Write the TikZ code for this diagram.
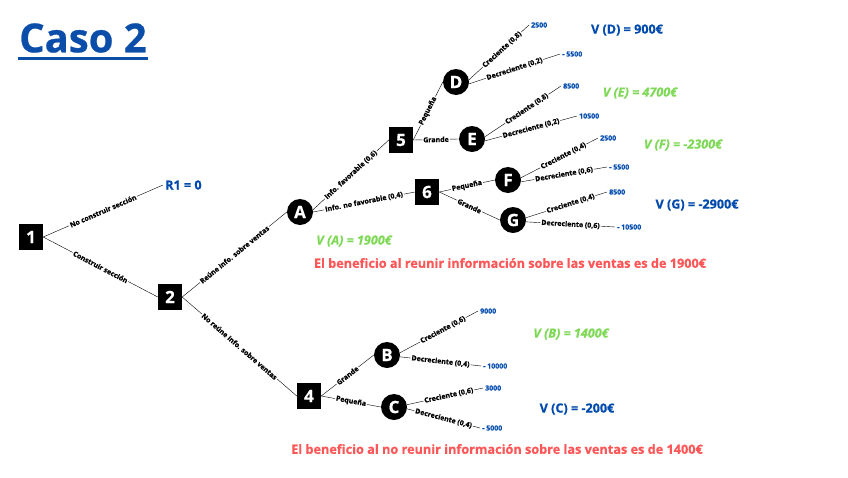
\documentclass[tikz,border=0pt]{standalone}
\usepackage{fontspec}
\setmainfont{Open Sans}[BoldFeatures={FakeBold=0.6},BoldItalicFeatures={FakeBold=0.6}]
\usepackage{xcolor}
\definecolor{titleblue}{HTML}{0B4EAA}
\definecolor{valblue}{HTML}{004AAD}
\definecolor{valgreen}{HTML}{7ED957}
\definecolor{valred}{HTML}{FF5757}

\begin{document}
\begin{tikzpicture}[x=1pt,y=-1pt,
  decision/.style={fill=black,text=white,minimum width=24pt,minimum height=26pt,inner sep=0pt,font=\bfseries\fontsize{17}{17}\selectfont},
  chance/.style={circle,fill=black,text=white,minimum size=26pt,inner sep=0pt,font=\bfseries\fontsize{17}{17}\selectfont},
  br/.style={sloped,fill=white,inner sep=1pt,font=\bfseries\fontsize{7}{7}\selectfont},
  leaf/.style={anchor=west,text=valblue,inner sep=2pt,font=\bfseries\fontsize{7}{7}\selectfont},
  vblue/.style={text=valblue,font=\bfseries\fontsize{12.6}{14}\selectfont},
  vgreen/.style={text=valgreen,font=\bfseries\itshape\fontsize{12.6}{14}\selectfont},
  vred/.style={text=valred,font=\bfseries\fontsize{12.7}{14}\selectfont}]
\fill[white] (0,0) rectangle (848,477);
\useasboundingbox (0,0) rectangle (848,477);

\node[anchor=west,inner sep=1pt,text=titleblue,font=\bfseries\fontsize{40}{44}\selectfont] (title) at (18,38) {Caso 2};
\draw[titleblue,line width=2.8pt] ([yshift=-6pt]title.base west) -- ([yshift=-6pt]title.base east);

\node[decision] (n1) at (31,237) {1};
\node[decision] (n2) at (170,297) {2};
\node[decision] (n4) at (309,396) {4};
\node[decision] (n5) at (401,140) {5};
\node[decision] (n6) at (427,192) {6};
\node[chance] (A) at (300,212) {A};
\node[chance] (D) at (456,82) {D};
\node[chance] (E) at (472,139) {E};
\node[chance] (F) at (508,180) {F};
\node[chance] (G) at (513,220) {G};
\node[chance] (B) at (387,355) {B};
\node[chance] (C) at (394,407) {C};

\node[leaf,text=valblue,font=\bfseries\fontsize{12.6}{14}\selectfont] (r1) at (163,185) {R1 = 0};
\node[leaf] (d1) at (529,25) {2500};
\node[leaf] (d2) at (560,54) {- 5500};
\node[leaf] (e1) at (561,86) {8500};
\node[leaf] (e2) at (577,116) {10500};
\node[leaf] (f1) at (598,138) {2500};
\node[leaf] (f2) at (607,167) {- 5500};
\node[leaf] (g1) at (607,192) {8500};
\node[leaf] (g2) at (615,227) {- 10500};
\node[leaf] (b1) at (478,311) {9000};
\node[leaf] (b2) at (481,366) {- 10000};
\node[leaf] (c1) at (483,388) {3000};
\node[leaf] (c2) at (480,428) {- 5000};

\draw (n1.east) -- node[br] {No construir sección} (r1.west);
\draw (n1.east) -- node[br] {Construir sección} (n2.west);
\draw (n2.east) -- node[br] {Reúne info. sobre ventas} (A.west);
\draw (n2.east) -- node[br] {No reúne info. sobre ventas} (n4.west);
\draw (A.10) -- node[br] {Info. favorable (0,6)} (n5.west);
\draw (A.east) -- node[br] {Info. no favorable (0,4)} (n6.west);
\draw (n5.east) -- node[br] {Pequeña} (D.west);
\draw (n5.east) -- node[br] {Grande} (E.west);
\draw (n6.east) -- node[br] {Pequeña} (F.west);
\draw (n6.east) -- node[br] {Grande} (G.west);
\draw (n4.east) -- node[br] {Grande} (B.west);
\draw (n4.east) -- node[br] {Pequeña} (C.west);
\draw (D.10) -- node[br,pos=0.55] {Creciente (0,8)} (d1.west);
\draw (D.-8) -- node[br] {Decreciente (0,2)} (d2.west);
\draw (E.10) -- node[br,pos=0.55] {Creciente (0,8)} (e1.west);
\draw (E.-8) -- node[br] {Decreciente (0,2)} (e2.west);
\draw (F.10) -- node[br,pos=0.55] {Creciente (0,4)} (f1.west);
\draw (F.-8) -- node[br] {Decreciente (0,6)} (f2.west);
\draw (G.10) -- node[br,pos=0.55] {Creciente (0,4)} (g1.west);
\draw (G.-8) -- node[br] {Decreciente (0,6)} (g2.west);
\draw (B.10) -- node[br,pos=0.55] {Creciente (0,6)} (b1.west);
\draw (B.-8) -- node[br] {Decreciente (0,4)} (b2.west);
\draw (C.10) -- node[br,pos=0.55] {Creciente (0,6)} (c1.west);
\draw (C.-8) -- node[br] {Decreciente (0,4)} (c2.west);

\node[vblue] (vD) at (627,30) {V (D) = 900€};
\node[vgreen] (vE) at (640,93) {V (E) = 4700€};
\node[vgreen] (vF) at (683,145) {V (F) = -2300€};
\node[vblue] (vG) at (697,205) {V (G) = -2900€};
\node[vgreen] (vA) at (354,241) {V (A) = 1900€};
\node[vgreen] (vB) at (571,334) {V (B) = 1400€};
\node[vblue] (vC) at (577,409) {V (C) = -200€};
\node[vred] (info) at (510,263) {El beneficio al reunir información sobre las ventas es de 1900€};
\node[vred] (noinfo) at (497,449) {El beneficio al no reunir información sobre las ventas es de 1400€};
\end{tikzpicture}
\end{document}
